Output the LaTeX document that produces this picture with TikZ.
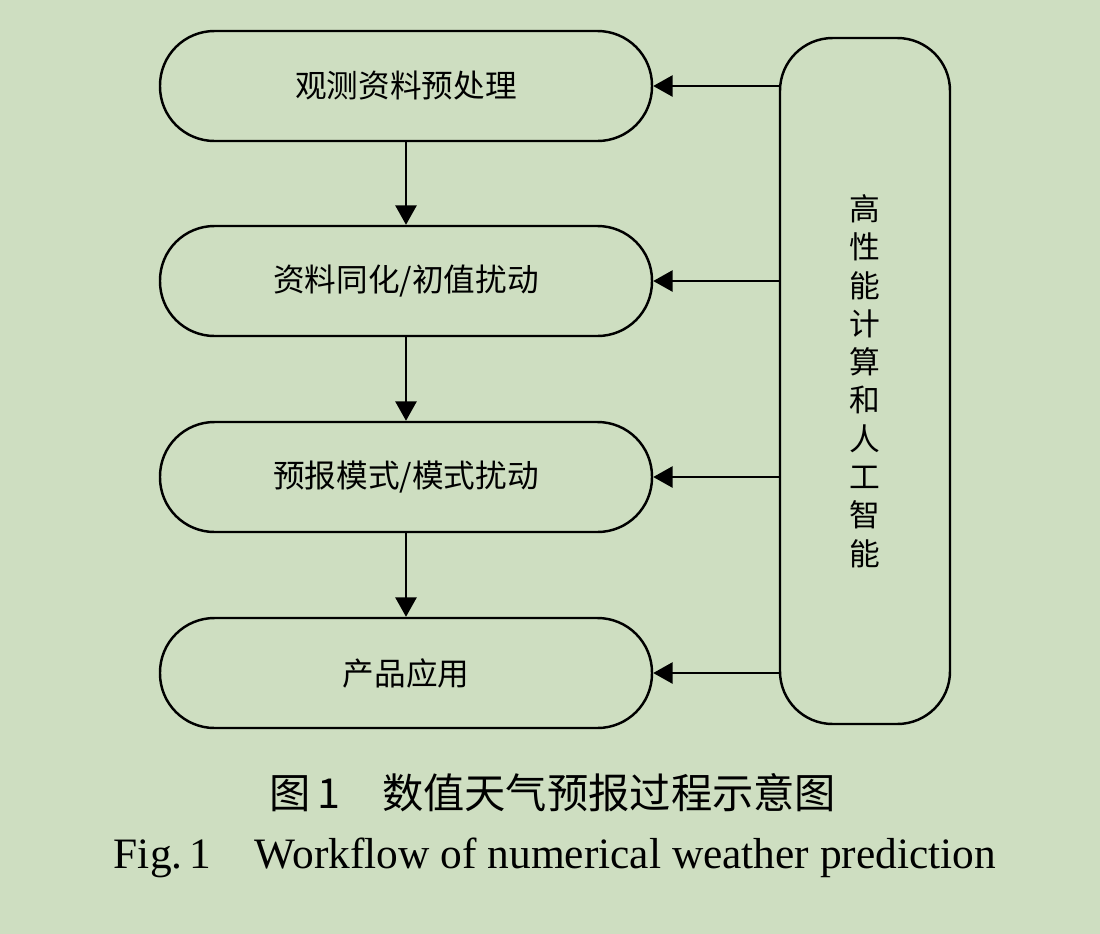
\documentclass[tikz,border=0pt]{standalone}
\usepackage{fontspec}
\setmainfont{Liberation Serif}
\newfontfamily\cjk{Noto Sans CJK SC}
\usetikzlibrary{arrows.meta}
\definecolor{bg}{RGB}{206,222,193}
\tikzset{
  stage/.style={draw=black, line width=1.4pt, rounded corners=31pt, minimum width=492*0.02cm, minimum height=110*0.02cm, inner sep=0pt, font=\cjk\fontsize{18}{21}\selectfont},
  conn/.style={line width=1.2pt, -{Triangle[length=11pt,width=12pt]}},
}
\begin{document}
\begin{tikzpicture}[x=0.02cm,y=-0.02cm]
\fill[bg] (0,0) rectangle (1100,934);
\useasboundingbox (0,0) rectangle (1100,934);
\node[stage] (s1) at (406,86) {观测资料预处理};
\node[stage] (s2) at (406,281) {资料同化/初值扰动};
\node[stage] (s3) at (406,477) {预报模式/模式扰动};
\node[stage] (s4) at (406,673) {产品应用};
\node[draw=black, line width=1.4pt, rounded corners=30pt, minimum width=170*0.02cm, minimum height=686*0.02cm, inner sep=0pt, font=\cjk\fontsize{17.5}{21.8}\selectfont, align=center] (hpc) at (865,381) {高\\性\\能\\计\\算\\和\\人\\工\\智\\能};
\draw[conn] (s1) -- (s2);
\draw[conn] (s2) -- (s3);
\draw[conn] (s3) -- (s4);
\foreach \s in {s1,s2,s3,s4}{
  \draw[conn] (hpc.west |- \s.east) -- (\s.east);
}
\node[font=\cjk\fontsize{23.5}{27}\selectfont] (cap1) at (553,793) {图\,1\hspace{1em}数值天气预报过程示意图};
\node[font=\fontsize{24.7}{28}\selectfont] (cap2) at (555,858) {Fig.\,1\hspace{1em}Workflow of numerical weather prediction};
\end{tikzpicture}
\end{document}
